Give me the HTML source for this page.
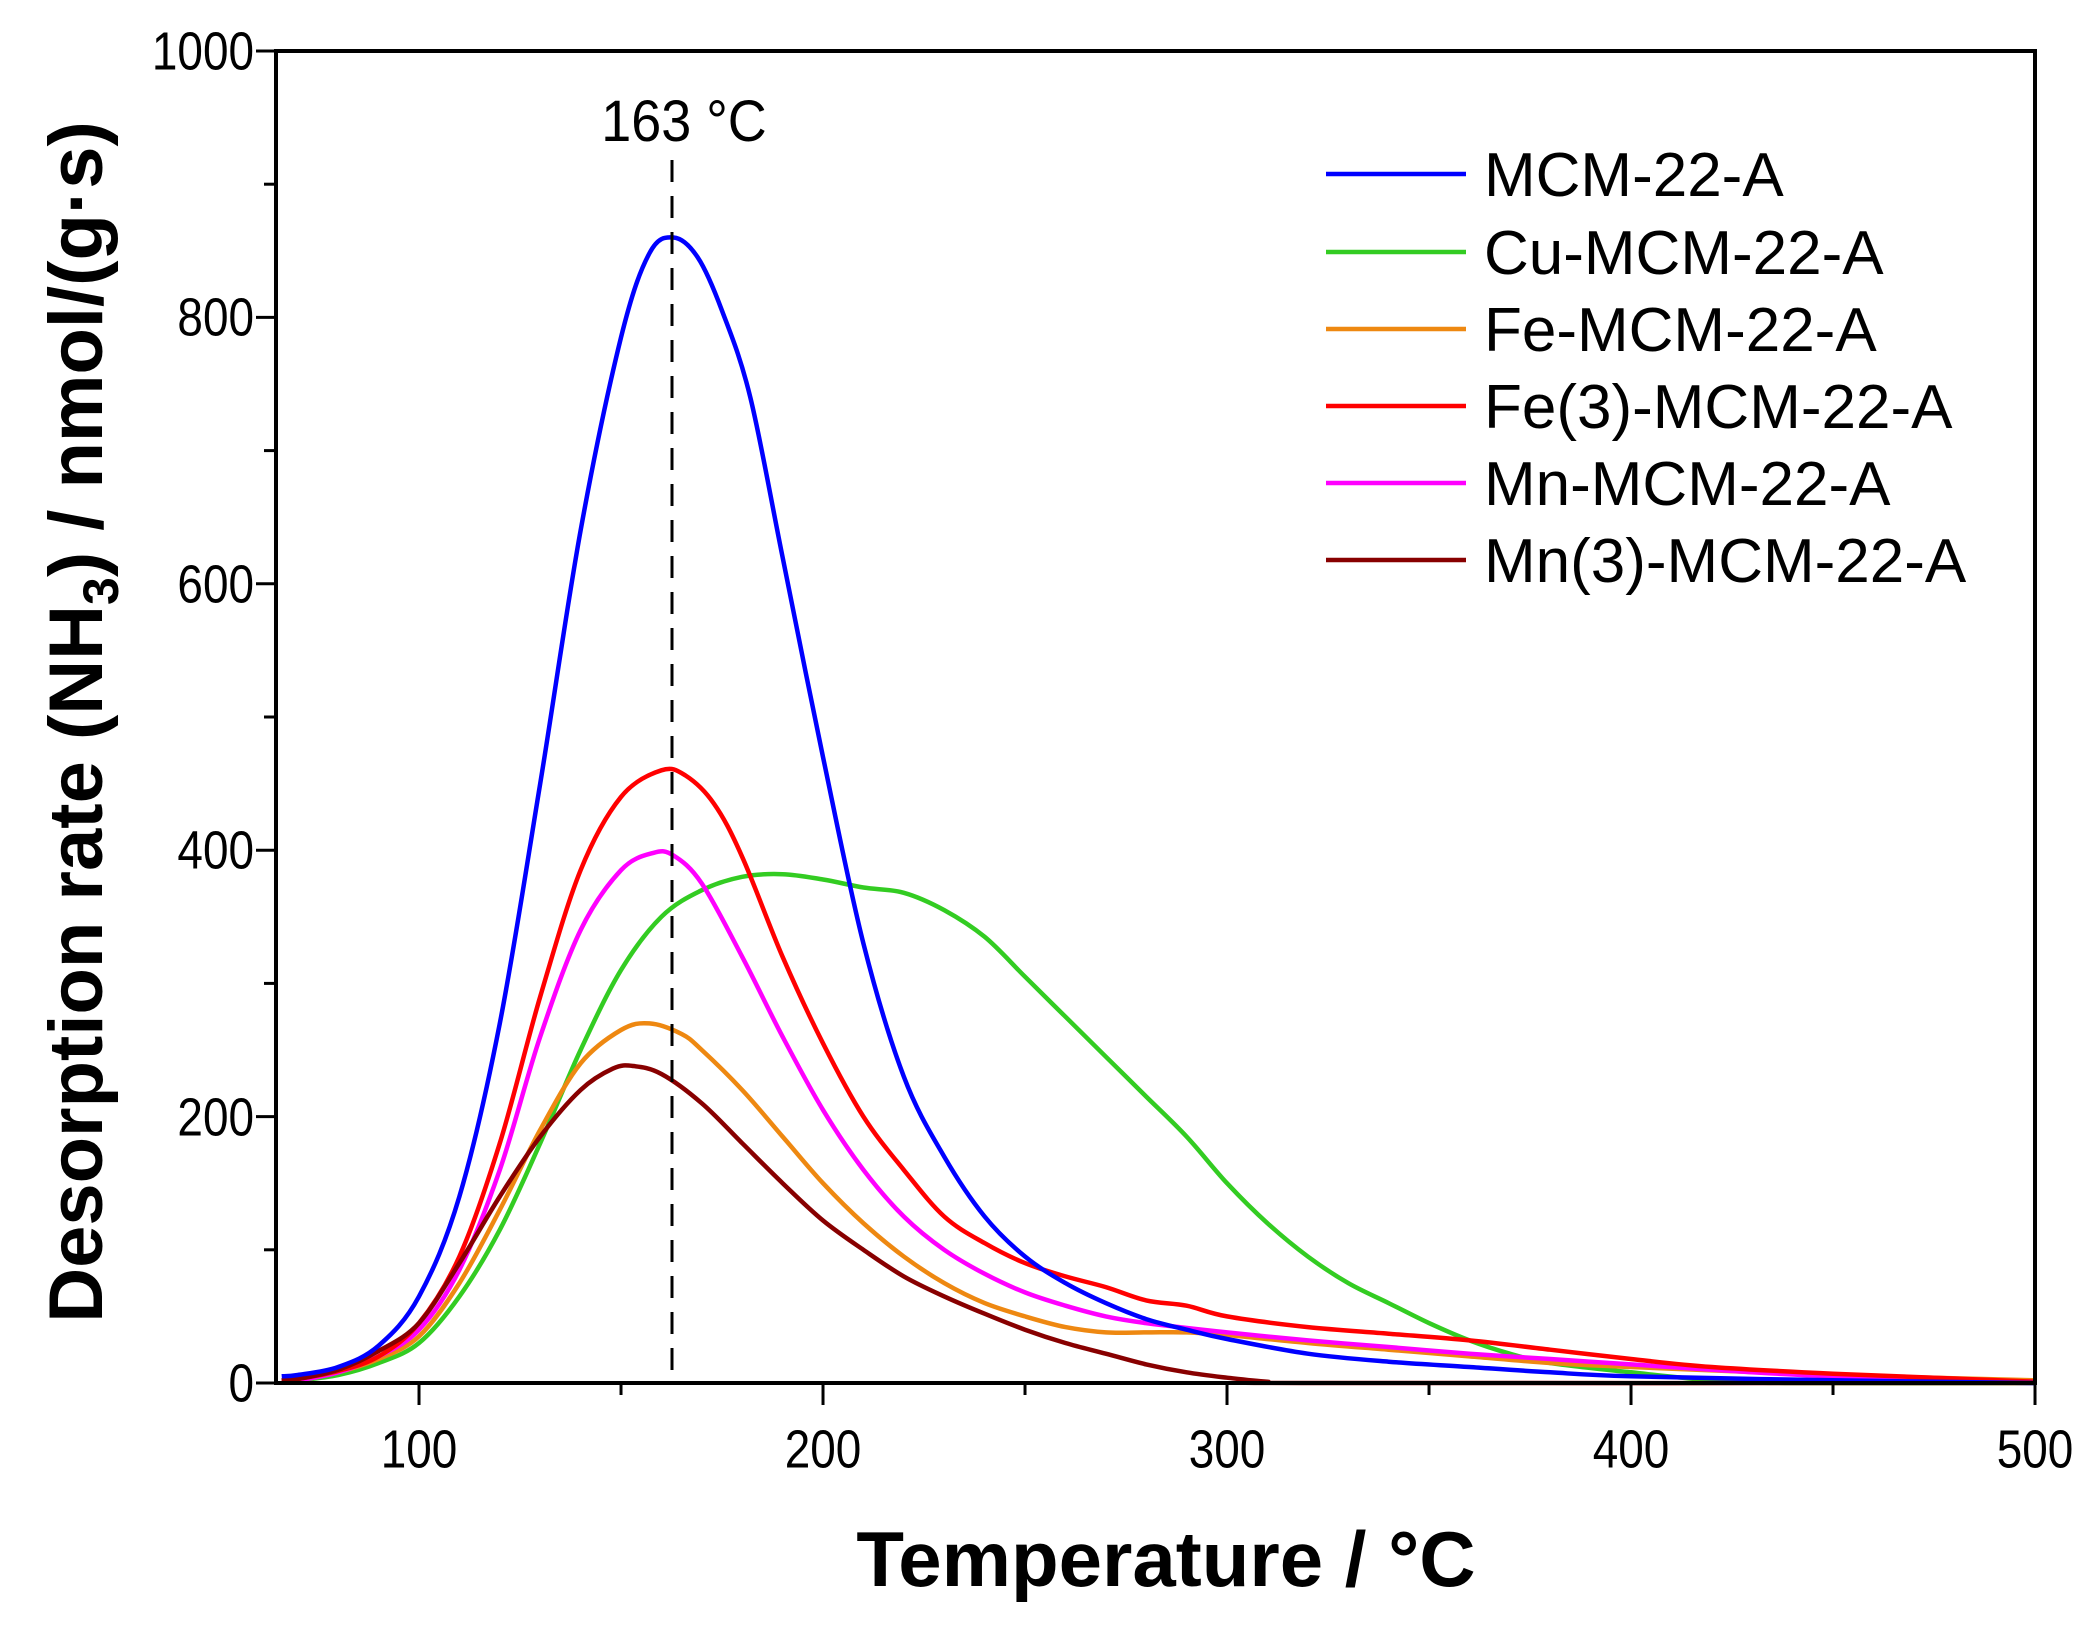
<!DOCTYPE html>
<html><head><meta charset="utf-8"><style>
html,body{margin:0;padding:0;background:#fff;}
svg{display:block;font-family:"Liberation Sans",Arial,sans-serif;}
</style></head><body>
<svg id="s" width="2100" height="1631" viewBox="0 0 2100 1631" xmlns="http://www.w3.org/2000/svg">
<rect width="2100" height="1631" fill="#fff"/>
<g id="curves" fill="none" stroke-width="4.5" stroke-linejoin="round"></g>
<line x1="672" y1="160" x2="672" y2="1383" stroke="#000" stroke-width="3" stroke-dasharray="22,14"/>
<text x="684" y="141" font-size="58" text-anchor="middle" transform="translate(684,0) scale(0.93,1) translate(-684,0)">163 °C</text>
<rect x="276" y="51" width="1759" height="1332" fill="none" stroke="#000" stroke-width="4"/>
<g id="ticks" stroke="#000" stroke-width="3"></g>
<g font-size="54" text-anchor="end" dominant-baseline="central">
<text transform="translate(254,1383) scale(0.85,1)">0</text>
<text transform="translate(254,1117) scale(0.85,1)">200</text>
<text transform="translate(254,850) scale(0.85,1)">400</text>
<text transform="translate(254,584) scale(0.85,1)">600</text>
<text transform="translate(254,317) scale(0.85,1)">800</text>
<text transform="translate(254,51) scale(0.85,1)">1000</text>
</g>
<g font-size="54" text-anchor="middle" dominant-baseline="central">
<text transform="translate(419,1449) scale(0.85,1)">100</text>
<text transform="translate(823,1449) scale(0.85,1)">200</text>
<text transform="translate(1227,1449) scale(0.85,1)">300</text>
<text transform="translate(1631,1449) scale(0.85,1)">400</text>
<text transform="translate(2035,1449) scale(0.85,1)">500</text>
</g>
<text x="1166" y="1586" font-size="78" font-weight="bold" text-anchor="middle">Temperature / °C</text>
<text transform="translate(102,722) rotate(-90)" font-size="76" font-weight="bold" text-anchor="middle">Desorption rate (NH<tspan font-size="50" dy="16">3</tspan><tspan dy="-16">) / nmol/(g·s)</tspan></text>
<g stroke-width="4.5">
<line x1="1326" y1="174" x2="1466" y2="174" stroke="#0000ff"/>
<line x1="1326" y1="252" x2="1466" y2="252" stroke="#33cc22"/>
<line x1="1326" y1="329" x2="1466" y2="329" stroke="#ee8811"/>
<line x1="1326" y1="406" x2="1466" y2="406" stroke="#ff0000"/>
<line x1="1326" y1="483" x2="1466" y2="483" stroke="#ff00ff"/>
<line x1="1326" y1="560" x2="1466" y2="560" stroke="#880000"/>
</g>
<g font-size="62">
<text x="1484" y="196">MCM-22-A</text>
<text x="1484" y="274">Cu-MCM-22-A</text>
<text x="1484" y="351">Fe-MCM-22-A</text>
<text x="1484" y="428">Fe(3)-MCM-22-A</text>
<text x="1484" y="505">Mn-MCM-22-A</text>
<text x="1484" y="582">Mn(3)-MCM-22-A</text>
</g>
</svg>
<script>
var X=function(t){return 276+(t-64.6)*4.04;},Y=function(v){return 1383-v*1.332;};
var data=[
["#33cc22",[[66,1],[70,2],[80,6],[90,15],[100,30],[110,65],[120,115],[130,180],[140,250],[150,310],[160,350],[170,370],[180,380],[190,382],[200,378],[210,372],[220,368],[230,355],[240,335],[250,305],[260,275],[270,245],[280,215],[290,185],[300,150],[310,120],[320,95],[330,75],[340,60],[350,45],[360,32],[370,22],[380,15],[400,8],[420,2],[440,0],[500,0]]],
["#ee8811",[[66,1],[70,2],[80,8],[90,18],[100,35],[110,75],[120,130],[130,190],[140,240],[150,265],[157,270],[165,262],[170,250],[180,220],[190,185],[200,150],[210,120],[220,95],[230,75],[240,60],[250,50],[260,42],[270,38],[280,38],[290,38],[300,36],[320,30],[340,25],[360,20],[380,15],[400,12],[450,6],[500,2]]],
["#ff00ff",[[66,1],[70,2],[80,8],[90,20],[100,40],[110,85],[120,160],[130,260],[140,340],[150,385],[158,398],[163,396],[170,375],[180,320],[190,260],[200,205],[210,160],[220,125],[230,100],[240,82],[250,68],[260,58],[270,50],[280,45],[300,38],[320,32],[340,27],[360,22],[380,18],[400,14],[420,10],[450,5],[500,1]]],
["#ff0000",[[66,2],[70,3],[80,9],[90,20],[100,45],[110,95],[120,180],[130,290],[140,385],[150,440],[160,460],[166,456],[173,435],[180,395],[190,320],[200,255],[210,200],[220,160],[230,125],[240,105],[250,90],[260,80],[270,72],[280,62],[290,58],[300,50],[320,42],[340,37],[360,32],[380,25],[400,18],[420,12],[450,7],[500,1]]],
["#880000",[[66,2],[70,3],[80,10],[90,24],[100,45],[110,90],[120,140],[130,185],[140,220],[148,236],[153,238],[160,232],[170,210],[180,180],[190,150],[200,122],[210,100],[220,80],[230,65],[240,52],[250,40],[260,30],[270,22],[280,14],[290,8],[300,4],[310,1],[320,0],[500,0]]],
["#0000ff",[[66,5],[70,6],[80,12],[90,28],[100,65],[110,140],[120,270],[130,450],[140,640],[150,785],[157,848],[163,860],[169,845],[175,805],[182,740],[190,620],[200,470],[210,330],[220,230],[230,170],[240,125],[250,95],[260,75],[270,60],[280,48],[290,40],[300,33],[320,22],[340,16],[360,12],[380,8],[400,5],[450,2],[500,0]]]
];
var g=document.getElementById('curves'),ns="http://www.w3.org/2000/svg";
data.forEach(function(d){var p=d[1].map(function(q){return [X(q[0]),Y(q[1])];});
var s="M"+p[0][0].toFixed(1)+","+p[0][1].toFixed(1);
for(var i=0;i<p.length-1;i++){var a=p[i-1]||p[i],b=p[i],c=p[i+1],e=p[i+2]||c;
s+=" C"+(b[0]+(c[0]-a[0])/6).toFixed(1)+","+(b[1]+(c[1]-a[1])/6).toFixed(1)+" "+(c[0]-(e[0]-b[0])/6).toFixed(1)+","+(c[1]-(e[1]-b[1])/6).toFixed(1)+" "+c[0].toFixed(1)+","+c[1].toFixed(1);}
var el=document.createElementNS(ns,'path');el.setAttribute('d',s);el.setAttribute('stroke',d[0]);g.appendChild(el);});
var t=document.getElementById('ticks'),h='';
for(var v=0;v<=1000;v+=100){var y=Y(v);h+='<line x1="'+(v%200?264:256)+'" y1="'+y+'" x2="276" y2="'+y+'"/>';}
for(var x=100;x<=500;x+=50){var xx=X(x);h+='<line x1="'+xx+'" y1="1383" x2="'+xx+'" y2="'+(x%100?1395:1405)+'"/>';}
t.innerHTML=h;
</script>
</body></html>
